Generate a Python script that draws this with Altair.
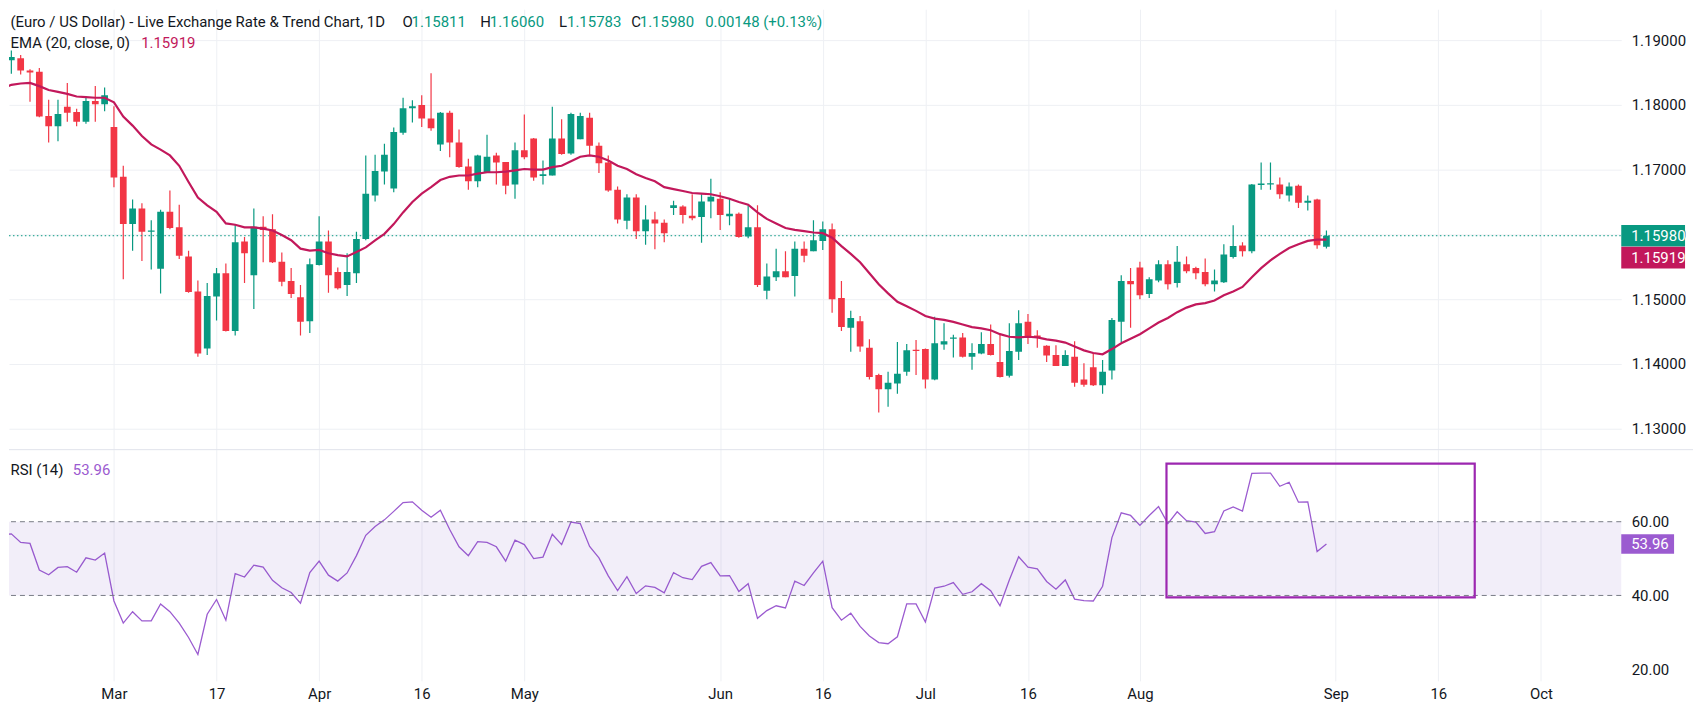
import altair as alt
import pandas as pd

# ---------------- data (daily EUR/USD bars) ----------------
OPEN = [1.1874,1.1869,1.1872,1.1853,1.1851,1.1783,1.1767,1.1797,1.1789,1.1774,
        1.1806,1.1801,1.1766,1.1689,1.1616,1.1640,1.1604,1.1547,1.1635,1.1611,
        1.1566,1.1512,1.1424,1.1504,1.1540,1.1451,1.1589,1.1537,1.1612,1.1608,
        1.1558,1.1528,1.1503,1.1466,1.1553,1.1589,1.1542,1.1522,1.1540,1.1593,
        1.1660,1.1697,1.1671,1.1757,1.1795,1.1800,1.1779,1.1739,1.1788,1.1742,
        1.1705,1.1682,1.1696,1.1722,1.1712,1.1677,1.1730,1.1748,1.1691,1.1691,
        1.1748,1.1725,1.1747,1.1780,1.1737,1.1711,1.1669,1.1621,1.1657,1.1605,
        1.1623,1.1618,1.1641,1.1643,1.1629,1.1627,1.1651,1.1655,1.1628,1.1632,
        1.1597,1.1611,1.1513,1.1534,1.1543,1.1536,1.1578,1.1574,1.1590,1.1608,
        1.1502,1.1456,1.1466,1.1425,1.1383,1.1361,1.1370,1.1388,1.1422,1.1423,
        1.1376,1.1430,1.1439,1.1441,1.1411,1.1416,1.1431,1.1403,1.1382,1.1419,
        1.1465,1.1443,1.1428,1.1414,1.1397,1.1411,1.1376,1.1395,1.1367,1.1390,
        1.1465,1.1528,1.1549,1.1508,1.1529,1.1554,1.1525,1.1554,1.1548,1.1542,
        1.1523,1.1526,1.1565,1.1583,1.1574,1.1677,1.1677,1.1677,1.1660,1.1675,
        1.1649,1.1654,1.15811]
HIGH = [1.1878,1.1884,1.1877,1.1855,1.1857,1.1808,1.1808,1.1834,1.1794,1.1813,
        1.1829,1.1827,1.1798,1.1706,1.1654,1.1648,1.1622,1.1638,1.1668,1.1646,
        1.1575,1.1529,1.1525,1.1548,1.1555,1.1616,1.1596,1.1640,1.1628,1.1631,
        1.1572,1.1548,1.1522,1.1563,1.1628,1.1606,1.1549,1.1571,1.1604,1.1722,
        1.1723,1.1740,1.1765,1.1811,1.1807,1.1815,1.1849,1.1789,1.1791,1.1762,
        1.1717,1.1723,1.1754,1.1726,1.1712,1.1742,1.1785,1.1749,1.1714,1.1797,
        1.1778,1.1788,1.1788,1.1788,1.1742,1.1722,1.1674,1.1662,1.1662,1.1645,
        1.1635,1.1623,1.1652,1.1645,1.1662,1.1662,1.1686,1.1665,1.1655,1.1634,
        1.1645,1.1645,1.1555,1.1578,1.1574,1.1589,1.1589,1.1622,1.1620,1.1617,
        1.1528,1.1482,1.1474,1.1438,1.1385,1.1388,1.1434,1.1431,1.1437,1.1424,
        1.1473,1.1463,1.1445,1.1448,1.1432,1.1449,1.1461,1.1446,1.1463,1.1483,
        1.1477,1.1452,1.1429,1.1429,1.1421,1.1435,1.1401,1.1417,1.1406,1.1471,
        1.1537,1.1548,1.1558,1.1534,1.1560,1.1560,1.1582,1.1566,1.1550,1.1563,
        1.1546,1.1585,1.1614,1.1588,1.1678,1.1711,1.1711,1.1688,1.1680,1.1677,
        1.1660,1.1655,1.16060]
LOW = [1.1866,1.1848,1.1847,1.1805,1.1781,1.1742,1.1744,1.1774,1.1767,1.1771,
       1.1774,1.1790,1.1673,1.1531,1.1575,1.1559,1.1546,1.1509,1.1608,1.1562,
       1.1510,1.1411,1.1414,1.1467,1.1450,1.1444,1.1525,1.1485,1.1557,1.1556,
       1.1520,1.1502,1.1444,1.1448,1.1552,1.1510,1.1515,1.1505,1.1525,1.1591,
       1.1651,1.1677,1.1665,1.1754,1.1773,1.1766,1.1760,1.1729,1.1719,1.1703,
       1.1669,1.1673,1.1696,1.1677,1.1662,1.1655,1.1716,1.1683,1.1677,1.1691,
       1.1723,1.1723,1.1747,1.1723,1.1695,1.1666,1.1617,1.1608,1.1593,1.1584,
       1.1577,1.1588,1.1630,1.1617,1.1622,1.1587,1.1625,1.1607,1.1614,1.1595,
       1.1594,1.1519,1.1500,1.1528,1.1534,1.1504,1.1557,1.1574,1.1576,1.1479,
       1.1451,1.1419,1.1419,1.1376,1.1325,1.1334,1.1354,1.1382,1.1383,1.1362,
       1.1375,1.1422,1.1410,1.1410,1.1391,1.1415,1.1413,1.1379,1.1379,1.1406,
       1.1431,1.1425,1.1403,1.1397,1.1397,1.1365,1.1365,1.1366,1.1354,1.1376,
       1.1434,1.1456,1.1500,1.1502,1.1526,1.1515,1.1518,1.1540,1.1531,1.1520,
       1.1512,1.1525,1.1563,1.1566,1.1571,1.1669,1.1669,1.1655,1.1651,1.1641,
       1.1637,1.1578,1.15783]
CLOSE = [1.1871,1.1874,1.1853,1.1850,1.1782,1.1767,1.1786,1.1788,1.1774,1.1806,
         1.1801,1.1815,1.1688,1.1616,1.1640,1.1604,1.1606,1.1635,1.1610,1.1567,
         1.1511,1.1416,1.1505,1.1540,1.1451,1.1588,1.1571,1.1612,1.1607,1.1557,
         1.1527,1.1508,1.1465,1.1554,1.1589,1.1537,1.1517,1.1542,1.1593,1.1663,
         1.1698,1.1723,1.1758,1.1795,1.1798,1.1779,1.1764,1.1788,1.1742,1.1704,
         1.1682,1.1722,1.1720,1.1711,1.1675,1.1730,1.1719,1.1688,1.1692,1.1748,
         1.1724,1.1786,1.1783,1.1737,1.1710,1.1668,1.1623,1.1657,1.1605,1.1623,
         1.1617,1.1602,1.1645,1.1630,1.1625,1.1651,1.1658,1.1630,1.1632,1.1596,
         1.1611,1.1522,1.1535,1.1543,1.1534,1.1578,1.1567,1.1591,1.1608,1.1500,
         1.1457,1.1471,1.1427,1.1380,1.1361,1.1371,1.1385,1.1421,1.1420,1.1376,
         1.1432,1.1435,1.1441,1.1411,1.1417,1.1431,1.1414,1.1380,1.1420,1.1463,
         1.1441,1.1442,1.1413,1.1397,1.1414,1.1371,1.1368,1.1367,1.1388,1.1468,
         1.1528,1.1523,1.1506,1.1531,1.1554,1.1523,1.1558,1.1543,1.1540,1.1523,
         1.1529,1.1569,1.1582,1.1574,1.1677,1.1678,1.1679,1.1662,1.1674,1.1649,
         1.1652,1.15832,1.15980]
EMA20 = [1.1825,1.1831,1.1833,1.1834,1.1829,1.1823,1.1820,1.1817,1.1813,1.1812,
         1.1811,1.1811,1.1804,1.1782,1.1768,1.1752,1.1739,1.1731,1.1722,1.1706,
         1.1681,1.1657,1.1645,1.1635,1.1617,1.1615,1.1611,1.1611,1.1609,1.1606,
         1.1599,1.1591,1.1578,1.1575,1.1576,1.1571,1.1568,1.1566,1.1573,1.1580,
         1.1591,1.1601,1.1616,1.1634,1.1650,1.1663,1.1673,1.1684,1.1689,1.1691,
         1.1691,1.1694,1.1696,1.1696,1.1697,1.1699,1.1701,1.1700,1.1700,1.1704,
         1.1706,1.1713,1.1720,1.1722,1.1720,1.1714,1.1706,1.1701,1.1693,1.1687,
         1.1682,1.1673,1.1670,1.1667,1.1664,1.1663,1.1662,1.1659,1.1655,1.1650,
         1.1646,1.1634,1.1624,1.1617,1.1610,1.1607,1.1605,1.1603,1.1602,1.1595,
         1.1582,1.1570,1.1557,1.1540,1.1523,1.1509,1.1496,1.1489,1.1482,1.1474,
         1.1470,1.1468,1.1465,1.1461,1.1457,1.1455,1.1452,1.1446,1.1442,1.1441,
         1.1442,1.1441,1.1438,1.1436,1.1433,1.1427,1.1421,1.1417,1.1415,1.1423,
         1.1432,1.1439,1.1446,1.1455,1.1464,1.1471,1.1480,1.1487,1.1492,1.1494,
         1.1498,1.1506,1.1512,1.1519,1.1534,1.1548,1.1560,1.1570,1.1579,1.1585,
         1.1590,1.1592,1.15919]
RSI14 = [56.4,56.7,54.4,54.1,46.9,45.6,47.6,47.8,46.3,50.2,
         49.6,51.5,38.5,32.5,35.6,33.1,33.1,37.7,35.6,32.5,
         28.6,24.0,34.9,38.9,33.3,45.9,45.0,48.2,47.7,44.1,
         42.1,40.8,37.9,46.2,49.3,45.5,43.9,46.1,50.8,56.3,
         58.7,60.5,62.8,65.2,65.4,63.1,61.2,63.1,57.9,53.2,
         50.8,54.6,54.4,53.2,49.3,55.0,53.8,50.0,50.4,56.6,
         53.8,59.9,59.5,53.3,50.2,45.3,41.3,45.1,40.5,42.6,
         42.2,40.7,46.2,44.8,44.3,47.9,48.9,45.3,45.4,41.1,
         43.2,33.8,35.9,37.2,36.6,43.9,42.7,46.1,49.3,36.7,
         33.3,35.2,31.6,29.0,27.2,26.9,28.8,37.7,37.7,32.8,
         42.0,42.5,43.5,40.3,41.0,43.2,41.3,37.2,44.2,50.5,
         47.7,47.2,43.8,41.7,44.2,39.0,38.6,38.5,42.5,55.7,
         62.4,61.7,59.0,61.7,64.1,59.5,62.7,60.3,59.9,56.8,
         57.3,62.9,64.0,62.9,73.1,73.2,73.2,69.6,70.7,65.3,
         65.4,51.9,53.96]

TICK_IDX = [12, 23, 34, 45, 56, 77, 88, 99, 110, 122, 143, 154, 165]
TICK_LBL = ["Mar", "17", "Apr", "16", "May", "Jun", "16", "Jul", "16", "Aug", "Sep", "16", "Oct"]
PRICE_TICKS = [1.13, 1.14, 1.15, 1.16, 1.17, 1.18, 1.19]
RSI_TICKS = [20, 40, 60]
RSI_BAND = [40, 60]
# highlight box drawn on the RSI pane (bar index range, RSI range)
BOX_X = [124.85, 157.9]
BOX_R = [39.46, 75.76]

# ---------------- styling ----------------
GREEN = "#089981"
RED = "#F23645"
EMA_C = "#C2185B"
RSI_C = "#9B5BD0"
BOX_C = "#9C27B0"
TXT = "#131722"
GRID = "#EEF0F4"
FONT = "Roboto"

W = 1618
H_MAIN = 442
H_RSI = 232
X_DOM = [0.748, 173.61]
P_DOM = [1.12677, 1.19477]
R_DOM = [16.84, 79.54]

N = len(CLOSE)
df = pd.DataFrame({"i": list(range(N)), "o": OPEN, "h": HIGH, "l": LOW,
                   "c": CLOSE, "ema": EMA20, "rsi": RSI14})
df["dir"] = ["up" if c >= o else "down" for o, c in zip(OPEN, CLOSE)]

xs = alt.Scale(domain=X_DOM, nice=False, zero=False)
ps = alt.Scale(domain=P_DOM, nice=False, zero=False)
rs = alt.Scale(domain=R_DOM, nice=False, zero=False)
col = alt.Color("dir:N", scale=alt.Scale(domain=["up", "down"], range=[GREEN, RED]), legend=None)

MAIN_X_AXIS = alt.Axis(values=TICK_IDX, grid=True, gridColor=GRID, labels=False,
                       ticks=False, domain=False, title=None)
MAIN_Y_AXIS = alt.Axis(orient="right", values=PRICE_TICKS, format=".5f", grid=True,
                       gridColor=GRID, ticks=False, domain=False, labelPadding=10,
                       labelAlign="left", labelBaseline="middle", labelFontSize=15,
                       labelColor=TXT, labelFont=FONT, title=None)

base = alt.Chart(df)

# first layer carries the axes; other layers leave the axis unspecified
wicks = base.mark_rule(clip=True, strokeWidth=1.2).encode(
    x=alt.X("i:Q", scale=xs, axis=MAIN_X_AXIS),
    y=alt.Y("l:Q", scale=ps, axis=MAIN_Y_AXIS),
    y2="h:Q",
    color=col,
)

bodies = base.transform_calculate(
    x0="datum.i - 0.36",
    x1="datum.i + 0.36",
    top="max(datum.o, datum.c) + (abs(datum.o - datum.c) < 0.00015 ? 0.00008 : 0)",
    bot="min(datum.o, datum.c) - (abs(datum.o - datum.c) < 0.00015 ? 0.00008 : 0)",
).mark_rect(clip=True).encode(
    x=alt.X("x0:Q", scale=xs),
    x2="x1:Q",
    y=alt.Y("top:Q", scale=ps),
    y2="bot:Q",
    color=col,
)

ema_line = base.mark_line(clip=True, color=EMA_C, strokeWidth=2.2).encode(
    x=alt.X("i:Q", scale=xs),
    y=alt.Y("ema:Q", scale=ps),
)

last = pd.DataFrame({"v": [CLOSE[-1]], "e": [EMA20[-1]],
                     "lv": [f"{CLOSE[-1]:.5f}"], "le": [f"{EMA20[-1]:.5f}"]})
price_rule = alt.Chart(last).mark_rule(color=GREEN, strokeDash=[1.5, 2.5], strokeWidth=1).encode(
    y=alt.Y("v:Q", scale=ps),
    x=alt.value(0), x2=alt.value(W),
)

BOX_PATH = "M-1,-0.34L1,-0.34L1,0.34L-1,0.34Z"
price_box = alt.Chart(last).mark_point(shape=BOX_PATH, size=4096, filled=True,
                                       color=GREEN, opacity=1, strokeWidth=0).encode(
    x=alt.value(1650), y=alt.Y("v:Q", scale=ps))
price_txt = alt.Chart(last).mark_text(align="left", baseline="middle", color="white",
                                      fontSize=15, font=FONT).encode(
    x=alt.value(1628), y=alt.Y("v:Q", scale=ps), text="lv:N")
ema_box = alt.Chart(last).mark_point(shape=BOX_PATH, size=4096, filled=True, color=EMA_C,
                                     opacity=1, strokeWidth=0, yOffset=18).encode(
    x=alt.value(1650), y=alt.Y("e:Q", scale=ps))
ema_txt = alt.Chart(last).mark_text(align="left", baseline="middle", color="white",
                                    fontSize=15, font=FONT, yOffset=18).encode(
    x=alt.value(1628), y=alt.Y("e:Q", scale=ps), text="le:N")

chg = CLOSE[-1] - CLOSE[-2]
pct = chg / CLOSE[-2] * 100
HEADER = [
    ("(Euro / US Dollar) - Live Exchange Rate & Trend Chart, 1D", 1.5, 12.7, TXT),
    ("O", 395, 12.7, TXT), (f"{OPEN[-1]:.5f}", 404, 12.7, GREEN),
    ("H", 473, 12.7, TXT), (f"{HIGH[-1]:.5f}", 482.5, 12.7, GREEN),
    ("L", 552, 12.7, TXT), (f"{LOW[-1]:.5f}", 560, 12.7, GREEN),
    ("C", 624.5, 12.7, TXT), (f"{CLOSE[-1]:.5f}", 633, 12.7, GREEN),
    (f"{chg:.5f} (+{pct:.2f}%)", 698.7, 12.7, GREEN),
    ("EMA (20, close, 0)", 1.5, 33.7, TXT), (f"{EMA20[-1]:.5f}", 132.6, 33.7, EMA_C),
]
one = pd.DataFrame({"k": [0]})
header_layers = [
    alt.Chart(one).mark_text(text=t, align="left", baseline="middle", color=c,
                             fontSize=15, font=FONT).encode(x=alt.value(px), y=alt.value(py))
    for t, px, py, c in HEADER
]

main = alt.layer(wicks, price_rule, bodies, ema_line, price_box, price_txt,
                 ema_box, ema_txt, *header_layers).properties(width=W, height=H_MAIN)

# ---------------- RSI pane ----------------
rsi_line = base.mark_line(clip=True, color=RSI_C, strokeWidth=1.3).encode(
    x=alt.X("i:Q", scale=xs,
            axis=alt.Axis(values=TICK_IDX, grid=True, gridColor=GRID, ticks=False,
                          domain=False, labelPadding=6, labelFontSize=15, labelColor=TXT,
                          labelFont=FONT, title=None, labelFlush=False, labelOverlap=False,
                          labelExpr=f"{TICK_LBL}[indexof({TICK_IDX}, datum.value)]")),
    y=alt.Y("rsi:Q", scale=rs,
            axis=alt.Axis(orient="right", values=RSI_TICKS, format=".2f", grid=False,
                          ticks=False, domain=False, labelPadding=10, labelAlign="left",
                          labelBaseline="middle", labelFontSize=15, labelColor=TXT,
                          labelFont=FONT, title=None)),
)
band_df = pd.DataFrame({"lo": [RSI_BAND[0]], "hi": [RSI_BAND[1]]})
band = alt.Chart(band_df).mark_rect(color="#7E57C2", opacity=0.1).encode(
    y=alt.Y("hi:Q", scale=rs), y2="lo:Q", x=alt.value(0), x2=alt.value(W))
lvl = alt.Chart(pd.DataFrame({"lvl": RSI_BAND})).mark_rule(
    color="#787B86", strokeDash=[5, 4], strokeWidth=1).encode(
    y=alt.Y("lvl:Q", scale=rs))
box_df = pd.DataFrame({"x0": [BOX_X[0]], "x1": [BOX_X[1]], "r0": [BOX_R[0]], "r1": [BOX_R[1]]})
hbox = alt.Chart(box_df).mark_rect(fillOpacity=0, stroke=BOX_C, strokeWidth=2.2).encode(
    x=alt.X("x0:Q", scale=xs), x2="x1:Q",
    y=alt.Y("r1:Q", scale=rs), y2="r0:Q")
sep = alt.Chart(one).mark_rule(color="#E0E3EB", strokeWidth=1).encode(
    y=alt.value(0), x=alt.value(0), x2=alt.value(1690))

rlast = pd.DataFrame({"v": [RSI14[-1]], "lv": [f"{RSI14[-1]:.2f}"]})
RBOX_PATH = "M-1,-0.37L1,-0.37L1,0.37L-1,0.37Z"
rsi_box = alt.Chart(rlast).mark_point(shape=RBOX_PATH, size=2809, filled=True, color=RSI_C,
                                      opacity=1, strokeWidth=0).encode(
    x=alt.value(1644.5), y=alt.Y("v:Q", scale=rs))
rsi_txt = alt.Chart(rlast).mark_text(align="left", baseline="middle", color="white",
                                     fontSize=15, font=FONT).encode(
    x=alt.value(1628), y=alt.Y("v:Q", scale=rs), text="lv:N")
rsi_lbl = [
    alt.Chart(one).mark_text(text=t, align="left", baseline="middle", color=c,
                             fontSize=15, font=FONT).encode(x=alt.value(px), y=alt.value(20.7))
    for t, px, c in [("RSI (14)", 1.5, TXT), (f"{RSI14[-1]:.2f}", 64, RSI_C)]
]

rsi = alt.layer(rsi_line, band, lvl, hbox, sep, rsi_box, rsi_txt, *rsi_lbl).properties(
    width=W, height=H_RSI)

chart = alt.vconcat(main, rsi, spacing=0, bounds="flush", padding=0,
                    background="white").configure(font=FONT).configure_view(stroke=None)

chart.save("out.html", embed_options={"renderer": "svg", "actions": False})
